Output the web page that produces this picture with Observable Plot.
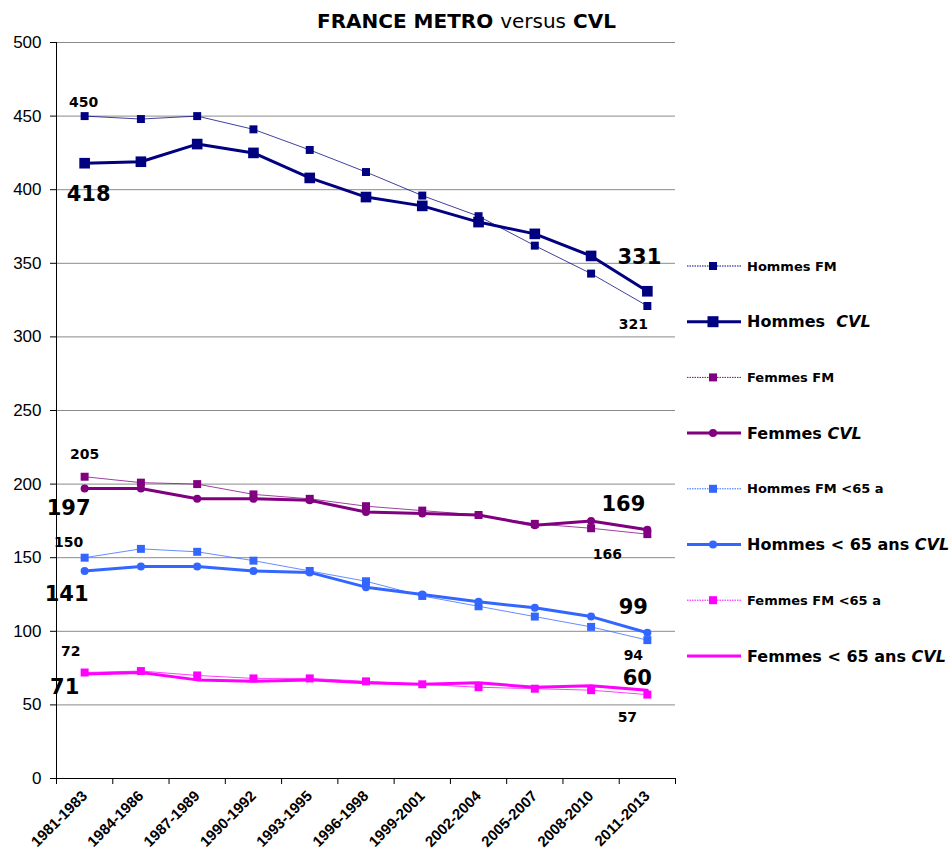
<!DOCTYPE html>
<html>
<head>
<meta charset="utf-8">
<script src="https://cdn.jsdelivr.net/npm/d3@7"></script>
<script src="https://cdn.jsdelivr.net/npm/@observablehq/plot@0.6"></script>
<style>
  body { margin: 0; background: #fff; }
  #wrap { position: relative; width: 952px; height: 865px; overflow: hidden; }
  #title { position: absolute; left: 317px; top: 9px; font-family: "Comic Sans MS", "DejaVu Sans", sans-serif; font-size: 20px; font-weight: bold; color: #000; white-space: nowrap; }
  #title .n { font-weight: normal; }
  #legend { position: absolute; left: 680px; top: 0; }
</style>
</head>
<body>
<div id="wrap">
  <div id="chart"></div>
  <div id="title">FRANCE METRO <span class="n">versus</span> CVL</div>
  <svg id="legend" width="272" height="865"></svg>
</div>
<script>
// Three-year periods on the x axis
const periods = ["1981-1983", "1984-1986", "1987-1989", "1990-1992", "1993-1995", "1996-1998",
                 "1999-2001", "2002-2004", "2005-2007", "2008-2010", "2011-2013"];

// Rates per series (France métropolitaine vs Centre-Val de Loire)
const hommesFM      = [450, 448, 450, 441, 427, 412, 396, 382, 362, 343, 321];
const hommesCVL     = [418, 419, 431, 425, 408, 395, 389, 378, 370, 355, 331];
const femmesFM      = [205, 201, 200, 193, 190, 185, 182, 179, 173, 170, 166];
const femmesCVL     = [197, 197, 190, 190, 189, 181, 180, 179, 172, 175, 169];
const hommesFM65    = [150, 156, 154, 148, 141, 134, 124, 117, 110, 103, 94];
const hommesCVL65   = [141, 144, 144, 141, 140, 130, 125, 120, 116, 110, 99];
const femmesFM65    = [72, 73, 70, 68, 68, 66, 64, 62, 61, 60, 57];
const femmesCVL65   = [71, 72, 67, 66, 67, 65, 64, 65, 62, 63, 60];

const yTicks = d3.range(0, 501, 50);

// Series descriptions: legend label, values, drawing style
const series = [
  {key: "hFM",   label: "Hommes FM",            values: hommesFM,    color: "#000080", thick: false, symbol: "square", r: 4.5},
  {key: "hCVL",  label: "Hommes  CVL",          values: hommesCVL,   color: "#000080", thick: true,  symbol: "square", r: 6},
  {key: "fFM",   label: "Femmes FM",            values: femmesFM,    color: "#800080", thick: false, symbol: "square", r: 4.5},
  {key: "fCVL",  label: "Femmes CVL",           values: femmesCVL,   color: "#800080", thick: true,  symbol: "circle", r: 4},
  {key: "hFM65", label: "Hommes FM <65 a",      values: hommesFM65,  color: "#3366FF", thick: false, symbol: "square", r: 4.5},
  {key: "hCVL65",label: "Hommes < 65 ans CVL",  values: hommesCVL65, color: "#3366FF", thick: true,  symbol: "circle", r: 4},
  {key: "fFM65", label: "Femmes FM <65 a",      values: femmesFM65,  color: "#FF00FF", thick: false, symbol: "square", r: 4.5},
  {key: "fCVL65",label: "Femmes < 65 ans CVL",  values: femmesCVL65, color: "#FF00FF", thick: true,  symbol: null,     r: 0}
];

// Long table built from the arrays above
const rows = series.flatMap(s => s.values.map((v, i) => ({key: s.key, i, v})));

// Value callouts at the first and last period
const callouts = [
  {key: "hFM",    i: 0,  big: false, dx: -1,  dy: -14},
  {key: "hCVL",   i: 0,  big: true,  dx: 4,   dy: 31},
  {key: "hCVL",   i: 10, big: true,  dx: -8,  dy: -34},
  {key: "hFM",    i: 10, big: false, dx: -14, dy: 19},
  {key: "fFM",    i: 0,  big: false, dx: 0,   dy: -22},
  {key: "fCVL",   i: 0,  big: true,  dx: -16, dy: 20},
  {key: "fCVL",   i: 10, big: true,  dx: -24, dy: -25},
  {key: "fFM",    i: 10, big: false, dx: -40, dy: 20},
  {key: "hFM65",  i: 0,  big: false, dx: -16, dy: -15},
  {key: "hCVL65", i: 0,  big: true,  dx: -18, dy: 23},
  {key: "hCVL65", i: 10, big: true,  dx: -14, dy: -26},
  {key: "hFM65",  i: 10, big: false, dx: -14, dy: 15},
  {key: "fFM65",  i: 0,  big: false, dx: -14, dy: -21},
  {key: "fCVL65", i: 0,  big: true,  dx: -20, dy: 13},
  {key: "fCVL65", i: 10, big: true,  dx: -10, dy: -12},
  {key: "fFM65",  i: 10, big: false, dx: -20, dy: 23}
].map(c => ({...c, v: series.find(s => s.key === c.key).values[c.i]}));

const comic = '"Comic Sans MS", "DejaVu Sans", sans-serif';
const arial = '"Liberation Sans", Arial, sans-serif';

const lineMarks = [];
// thin national lines first, thick regional lines on top
for (const thick of [false, true]) {
  for (const s of series.filter(d => d.thick === thick)) {
    const data = rows.filter(d => d.key === s.key);
    lineMarks.push(Plot.line(data, {x: "i", y: "v", stroke: s.color, strokeWidth: thick ? 3 : 1, strokeOpacity: thick ? 1 : 0.75}));
    if (s.symbol) lineMarks.push(Plot.dot(data, {x: "i", y: "v", symbol: s.symbol, r: s.r, fill: s.color, stroke: "none"}));
  }
}

const textMarks = callouts.map(c => Plot.text([c], {
  x: "i", y: "v", text: d => String(d.v), dx: c.dx, dy: c.dy,
  fontSize: c.big ? 21 : 14, fontWeight: "bold", fontFamily: comic, fill: "#000"
}));

const chart = Plot.plot({
  width: 952,
  height: 865,
  marginLeft: 56,
  marginRight: 277,
  marginTop: 42,
  marginBottom: 87,
  style: {background: "#fff", overflow: "visible"},
  x: {type: "linear", domain: [-0.5, periods.length - 0.5]},
  y: {domain: [0, 500]},
  marks: [
    Plot.gridY(yTicks, {stroke: "#8a8a8a", strokeOpacity: 1}),
    Plot.axisY(yTicks, {tickSize: 6, tickPadding: 9, fontSize: 17, fontFamily: arial, label: null, stroke: "#000"}),
    Plot.axisX(d3.range(-0.5, periods.length, 1), {tickSize: 6, tickFormat: () => "", label: null, stroke: "#000"}),
    Plot.axisX(d3.range(periods.length), {tickSize: 0, tickPadding: 15, tickFormat: i => periods[i], tickRotate: -45,
      textAnchor: "end", fontSize: 15, fontWeight: "bold", fontFamily: arial, label: null}),
    Plot.ruleY([0], {stroke: "#000"}),
    Plot.ruleX([-0.5], {stroke: "#000"}),
    ...lineMarks,
    ...textMarks
  ]
});
document.getElementById("chart").append(chart);

// Legend
const leg = d3.select("#legend");
const rowY = d3.range(series.length).map(k => 266 + k * 55.7);
series.forEach((s, k) => {
  const y = rowY[k];
  const g = leg.append("g");
  g.append("line").attr("x1", 7).attr("x2", 61).attr("y1", y).attr("y2", y)
    .attr("stroke", s.color).attr("stroke-width", s.thick ? 3 : 1)
    .attr("stroke-dasharray", s.thick ? null : "1.5,1");
  if (s.symbol === "square") {
    const side = s.thick ? 11 : 8;
    g.append("rect").attr("x", 33 - side / 2).attr("y", y - side / 2).attr("width", side).attr("height", side).attr("fill", s.color);
  } else if (s.symbol === "circle") {
    g.append("circle").attr("cx", 33).attr("cy", y).attr("r", 4).attr("fill", s.color);
  }
  const t = g.append("text").attr("x", 67).attr("y", y).attr("dy", "0.35em")
    .attr("font-family", comic).attr("font-weight", "bold")
    .attr("font-size", s.thick ? 16 : 13).attr("fill", "#000");
  const parts = s.label.split("CVL");
  if (parts.length > 1) {
    t.append("tspan").attr("xml:space", "preserve").text(parts[0]);
    t.append("tspan").attr("font-style", "italic").text("CVL");
  } else {
    t.text(s.label);
  }
});
</script>
</body>
</html>
